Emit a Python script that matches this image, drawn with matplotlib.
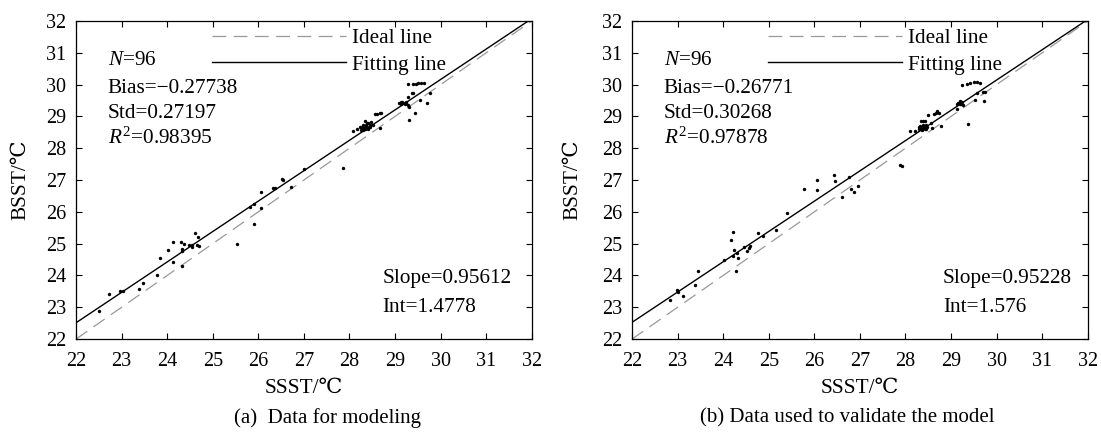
import matplotlib
matplotlib.use("Agg")
import matplotlib.pyplot as plt
import numpy as np

plt.rcParams["font.family"] = ["Liberation Serif", "DejaVu Serif", "Noto Sans CJK SC"]
plt.rcParams["mathtext.fontset"] = "custom"
plt.rcParams["mathtext.rm"] = "Liberation Serif"
plt.rcParams["mathtext.it"] = "Liberation Serif:italic"

# panel (a): data for modeling
sst_a = [22.51, 22.72, 22.96, 23.04, 23.39, 23.46, 23.78, 23.85, 24.03, 24.13,
         24.13, 24.30, 24.32, 24.32, 24.32, 24.37, 24.48, 24.54, 24.54, 24.61,
         24.68, 24.65, 24.71, 25.53, 25.91, 25.82, 25.91, 26.05, 26.07, 26.33,
         26.37, 26.52, 26.55, 26.72, 27.01, 27.86,
         28.08, 28.17, 28.23, 28.25, 28.27, 28.30, 28.32, 28.35, 28.37, 28.40,
         28.42, 28.45, 28.30, 28.34, 28.38, 28.34, 28.41, 28.48, 28.52, 28.56,
         28.61, 28.67, 28.70, 28.67, 28.28, 28.36, 28.44, 28.31,
         29.09, 29.14, 29.18, 29.21, 29.25, 29.29, 29.31, 29.12, 29.16, 29.24,
         29.38, 29.29, 29.40, 29.51, 29.58, 29.63, 29.54, 29.70, 29.43, 29.31,
         29.76, 29.40, 29.29, 29.45]
bsst_a = [22.89, 23.41, 23.52, 23.52, 23.56, 23.76, 24.02, 24.54, 24.80, 25.05,
          24.43, 25.05, 24.82, 24.76, 24.30, 24.98, 24.96, 24.90, 24.96, 25.32,
          25.22, 24.96, 24.92, 24.98, 25.63, 26.15, 26.24, 26.12, 26.61, 26.76,
          26.76, 27.03, 26.99, 26.79, 27.34, 27.37,
          28.54, 28.60, 28.68, 28.56, 28.62, 28.58, 28.65, 28.60, 28.70, 28.62,
          28.68, 28.66, 28.72, 28.86, 28.78, 28.62, 28.80, 28.83, 28.73, 29.07,
          29.08, 29.12, 29.12, 28.63, 28.66, 28.74, 28.72, 28.64,
          29.41, 29.46, 29.41, 29.38, 29.46, 29.36, 29.31, 29.40, 29.44, 29.42,
          29.75, 30.02, 30.02, 30.04, 30.04, 30.04, 29.52, 29.41, 29.10, 28.89,
          29.75, 29.75, 29.62, 30.03]

# panel (b): data used to validate the model
sst_b = [22.83, 22.98, 23.00, 23.13, 23.38, 23.44, 24.02, 24.17, 24.22, 24.22,
         24.24, 24.30, 24.32, 24.28, 24.46, 24.52, 24.57, 24.59, 24.77, 24.88,
         25.16, 25.41, 25.77, 26.07, 26.07, 26.43, 26.45, 26.61, 26.76, 26.80,
         26.87, 26.96, 27.88, 27.93,
         28.10, 28.21, 28.29, 28.33, 28.36, 28.40, 28.44, 28.48, 28.31, 28.35,
         28.38, 28.42, 28.33, 28.39, 28.45, 28.36, 28.42, 28.57, 28.59, 28.62,
         28.66, 28.70, 28.73, 28.50, 28.79, 28.30, 28.34, 28.40,
         29.12, 29.16, 29.20, 29.23, 29.27, 29.19, 29.25, 29.34, 29.42, 29.50,
         29.58, 29.63, 29.52, 29.57, 29.70, 29.74, 29.72, 29.38, 29.22, 29.14]
bsst_b = [23.23, 23.55, 23.49, 23.36, 23.70, 24.15, 24.50, 25.12, 25.38, 24.62,
          24.79, 24.72, 24.54, 24.13, 24.91, 24.78, 24.86, 24.93, 25.33, 25.23,
          25.42, 25.97, 26.73, 26.99, 26.68, 27.15, 26.96, 26.46, 27.09, 26.72,
          26.62, 26.81, 27.47, 27.44,
          28.53, 28.53, 28.60, 28.62, 28.58, 28.64, 28.60, 28.66, 28.70, 28.85,
          28.85, 28.86, 28.68, 28.72, 28.74, 28.64, 28.60, 28.78, 28.65, 29.07,
          29.12, 29.16, 29.10, 29.03, 28.70, 28.66, 28.62, 28.68,
          29.22, 29.43, 29.47, 29.45, 29.35, 29.40, 29.98, 30.02, 30.05, 30.07,
          30.07, 30.05, 29.51, 29.75, 29.77, 29.77, 29.47, 28.75, 29.40, 29.38]

panels = [
    dict(x=sst_a, y=bsst_a, bias="\u22120.27738", std="0.27197", r2="0.98395",
         slope=0.95612, intercept=1.4778, intercept_txt="1.4778",
         caption="(a)  Data for modeling"),
    dict(x=sst_b, y=bsst_b, bias="\u22120.26771", std="0.30268", r2="0.97878",
         slope=0.95228, intercept=1.576, intercept_txt="1.576",
         caption="(b) Data used to validate the model"),
]

AX_LEFT = [0.069, 0.574]
AX_W = 0.414
AX_B = 0.224
AX_H = 0.728
FS = 15.3

fig = plt.figure(figsize=(11.01, 4.37), dpi=100)

for i, p in enumerate(panels):
    ax = fig.add_axes([AX_LEFT[i], AX_B, AX_W, AX_H])
    xx = np.array([22.0, 32.0])
    ax.plot(xx, xx, color="0.6", linestyle=(0, (11, 6)), linewidth=0.9, label="Ideal line")
    ax.plot(xx, p["slope"] * xx + p["intercept"], color="black", linewidth=1.0,
            label="Fitting line")
    ax.scatter(p["x"], p["y"], s=6, color="black", linewidths=0, zorder=3)

    ax.set_xlim(22, 32)
    ax.set_ylim(22, 32)
    ax.set_xticks(range(22, 33))
    ax.set_yticks(range(22, 33))
    ax.tick_params(direction="in", top=True, right=True, length=4, width=0.8,
                   labelsize=14.5)
    ax.tick_params(axis="x", pad=9)
    ax.tick_params(axis="y", pad=7)
    for s in ax.spines.values():
        s.set_linewidth(0.9)

    ax.set_xlabel("SSST/\u2103", fontsize=FS)
    ax.xaxis.set_label_coords(0.5, -0.125)
    ax.set_ylabel("BSST/\u2103", fontsize=FS)
    ax.yaxis.set_label_coords(-0.1 if i == 0 else -0.11, 0.5)

    ax.legend(loc="upper left", bbox_to_anchor=(0.29, 0.99), frameon=False,
              fontsize=FS, handlelength=6.3, handletextpad=0.25,
              labelspacing=0.3, borderpad=0.2, borderaxespad=0)

    tx = 0.07
    ax.text(tx, 0.877, "$N$=96", transform=ax.transAxes, fontsize=FS, va="center")
    ax.text(tx, 0.789, "Bias=" + p["bias"], transform=ax.transAxes, fontsize=FS, va="center")
    ax.text(tx, 0.709, "Std=" + p["std"], transform=ax.transAxes, fontsize=FS, va="center")
    ax.text(tx, 0.630, "$R^{\\mathrm{2}}$=" + p["r2"], transform=ax.transAxes,
            fontsize=FS, va="center")

    sx = 0.672 if i == 0 else 0.682
    ax.text(sx, 0.189, f"Slope={p['slope']:.5f}", transform=ax.transAxes, fontsize=FS, va="center")
    ax.text(sx, 0.10, "Int=" + p["intercept_txt"], transform=ax.transAxes, fontsize=FS, va="center")

    cx = [327 / 1101, 847 / 1101][i]
    fig.text(cx, 1 - 418 / 437, p["caption"], ha="center", va="center", fontsize=15)

fig.savefig("out.png", dpi=100)
